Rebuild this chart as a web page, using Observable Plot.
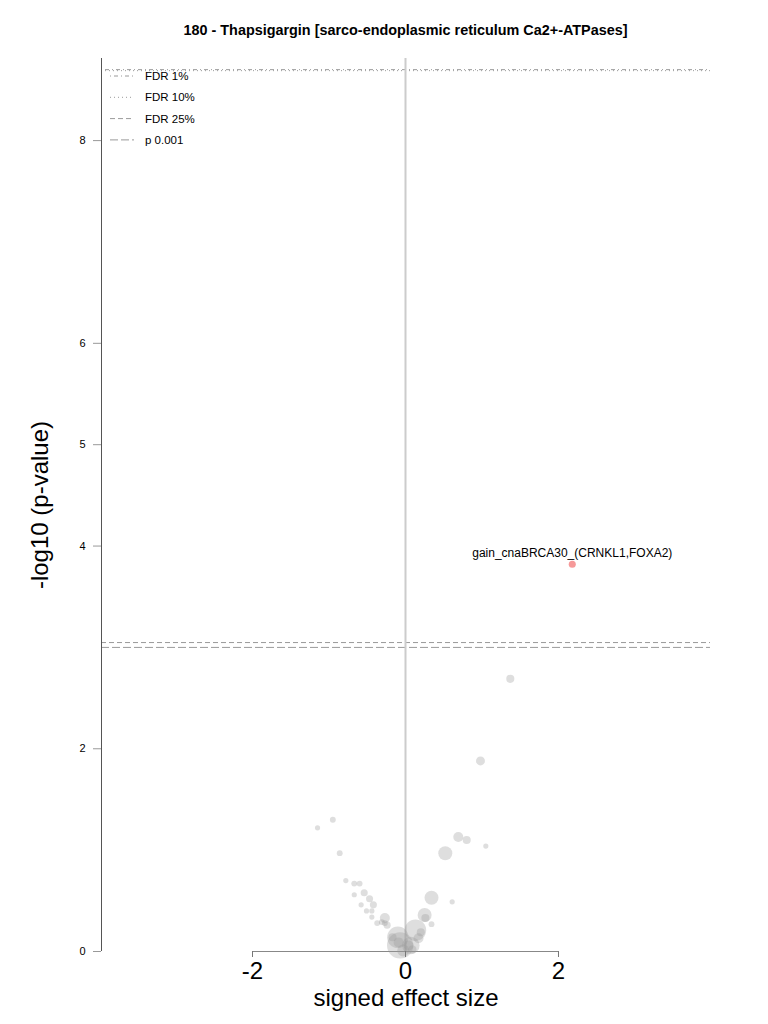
<!DOCTYPE html>
<html>
<head>
<meta charset="utf-8">
<script src="https://cdn.jsdelivr.net/npm/d3@7"></script>
<script src="https://cdn.jsdelivr.net/npm/@observablehq/plot@0.6"></script>
<style>
  body { margin: 0; background: #fff; font-family: "Liberation Sans", Arial, sans-serif; }
  #title { height: 45px; box-sizing: border-box; padding-top: 21px; padding-left: 43px; line-height: 18px; text-align: center; font-weight: bold; font-size: 14.4px; color: #000; }
</style>
</head>
<body>
<div id="title">180 - Thapsigargin [sarco-endoplasmic reticulum Ca2+-ATPases]</div>
<div id="chart"></div>
<script>
// signed effect size, -log10 p-value, sample count (bubble size)
const effect = [-1.15,-0.95,-0.86,-0.78,-0.67,-0.60,-0.67,-0.54,-0.47,-0.58,-0.42,-0.51,-0.44,-0.44,-0.27,-0.37,-0.31,-0.27,-0.24,-0.17,-0.10,-0.09,-0.07,-0.03,0.04,0.07,0.09,0.13,0.17,0.20,0.25,0.26,0.34,0.34,0.61,0.52,0.69,0.80,1.05,0.98,1.37];
const logp   = [1.22,1.30,0.97,0.70,0.67,0.67,0.56,0.58,0.52,0.46,0.46,0.40,0.40,0.34,0.33,0.28,0.29,0.28,0.26,0.14,0.14,0.09,0.06,0.01,0.06,0.06,0.02,0.21,0.13,0.19,0.36,0.33,0.27,0.53,0.49,0.97,1.13,1.10,1.04,1.88,2.69];
const count  = [7,9,9,7,9,9,7,13,13,7,13,7,7,7,26,9,9,9,13,17,120,26,180,37,26,80,17,120,26,17,51,17,9,51,7,51,26,17,7,21,17];

const hitLabel = ["gain_cnaBRCA30_(CRNKL1,FOXA2)"];
const hitEffect = [2.18];
const hitLogp = [3.82];
const hitCount = [13];

const thresholdNames = ["FDR 1%", "FDR 10%", "FDR 25%", "p 0.001"];
const thresholdValues = [8.70, 8.69, 3.048, 3.0];
const thresholdDash = ["1,3,4,3", "1,3", "5,3", "8,3"];

const xTicks = [-2, 0, 2];
const yTicks = [0, 2, 4, 5, 6, 8];
const xDomain = [-3.974, 3.987];
const yMax = 8.81;

const points = effect.map((e, i) => ({effect: e, logp: logp[i], n: count[i]}));
const hits = hitLabel.map((l, i) => ({label: l, effect: hitEffect[i], logp: hitLogp[i], n: hitCount[i]}));
const thresholds = thresholdNames.map((name, i) => ({name, value: thresholdValues[i], dash: thresholdDash[i]}));

const marks = [];
thresholds.forEach(t => {
  marks.push(Plot.ruleY([t.value], {stroke: "#9a9a9a", strokeWidth: 1, strokeDasharray: t.dash}));
});
marks.push(Plot.ruleX([0], {y1: 0, y2: yMax, stroke: "#cccccc", strokeWidth: 2}));
marks.push(Plot.ruleX([xDomain[0]], {y1: 0, y2: yMax, stroke: "#555", strokeWidth: 1}));
marks.push(Plot.ruleY([0], {x1: xTicks[0], x2: xTicks[xTicks.length - 1], stroke: "#888", strokeWidth: 1.2}));
marks.push(Plot.dot(points, {x: "effect", y: "logp", r: "n", fill: "#999", fillOpacity: 0.32, stroke: "none"}));
marks.push(Plot.dot(hits, {x: "effect", y: "logp", r: "n", fill: "#ee3333", fillOpacity: 0.5, stroke: "none"}));
marks.push(Plot.text(hits, {x: "effect", y: "logp", text: "label", dy: -11, fontSize: 12, fill: "#000"}));
marks.push(Plot.axisX({ticks: xTicks, tickSize: 6, tickPadding: 4, fontSize: 24, stroke: "#777", label: null, tickFormat: d => String(d).replace("−", "-")}));
marks.push(Plot.axisY({ticks: yTicks, tickSize: 8, tickPadding: 8, fontSize: 11, stroke: "#999", label: null, tickFormat: d => String(d)}));
marks.push(Plot.text(["signed effect size"], {frameAnchor: "bottom", dy: 47, fontSize: 24, lineAnchor: "middle", textAnchor: "middle", fill: "#000"}));
marks.push(Plot.text(["-log10 (p-value)"], {frameAnchor: "left", dx: -61, rotate: -90, fontSize: 24, lineAnchor: "middle", textAnchor: "middle", fill: "#000"}));

const plot = Plot.plot({
  width: 768,
  height: 979,
  marginTop: 13,
  marginBottom: 73,
  marginLeft: 101,
  marginRight: 58,
  style: {fontFamily: "'Liberation Sans', Arial, sans-serif", background: "#fff", color: "#000"},
  x: {domain: xDomain},
  y: {domain: [0, yMax]},
  r: {type: "sqrt", domain: [0, 150], range: [0, 12]},
  marks
});
document.getElementById("chart").appendChild(plot);

// legend drawn inside the SVG
const svg = d3.select(plot);
const lg = svg.append("g").attr("class", "legend").attr("text-anchor", "start");
const legendTop = 31, legendStep = 21.3;
thresholds.forEach((t, i) => {
  const y = legendTop + i * legendStep;
  lg.append("line").attr("x1", 110).attr("x2", 134).attr("y1", y).attr("y2", y)
    .attr("stroke", "#9a9a9a").attr("stroke-width", 1).attr("stroke-dasharray", t.dash);
  lg.append("text").attr("x", 145).attr("y", y).attr("dy", "0.35em")
    .attr("text-anchor", "start").attr("font-size", 11.5).attr("fill", "#000").text(t.name);
});
</script>
</body>
</html>
